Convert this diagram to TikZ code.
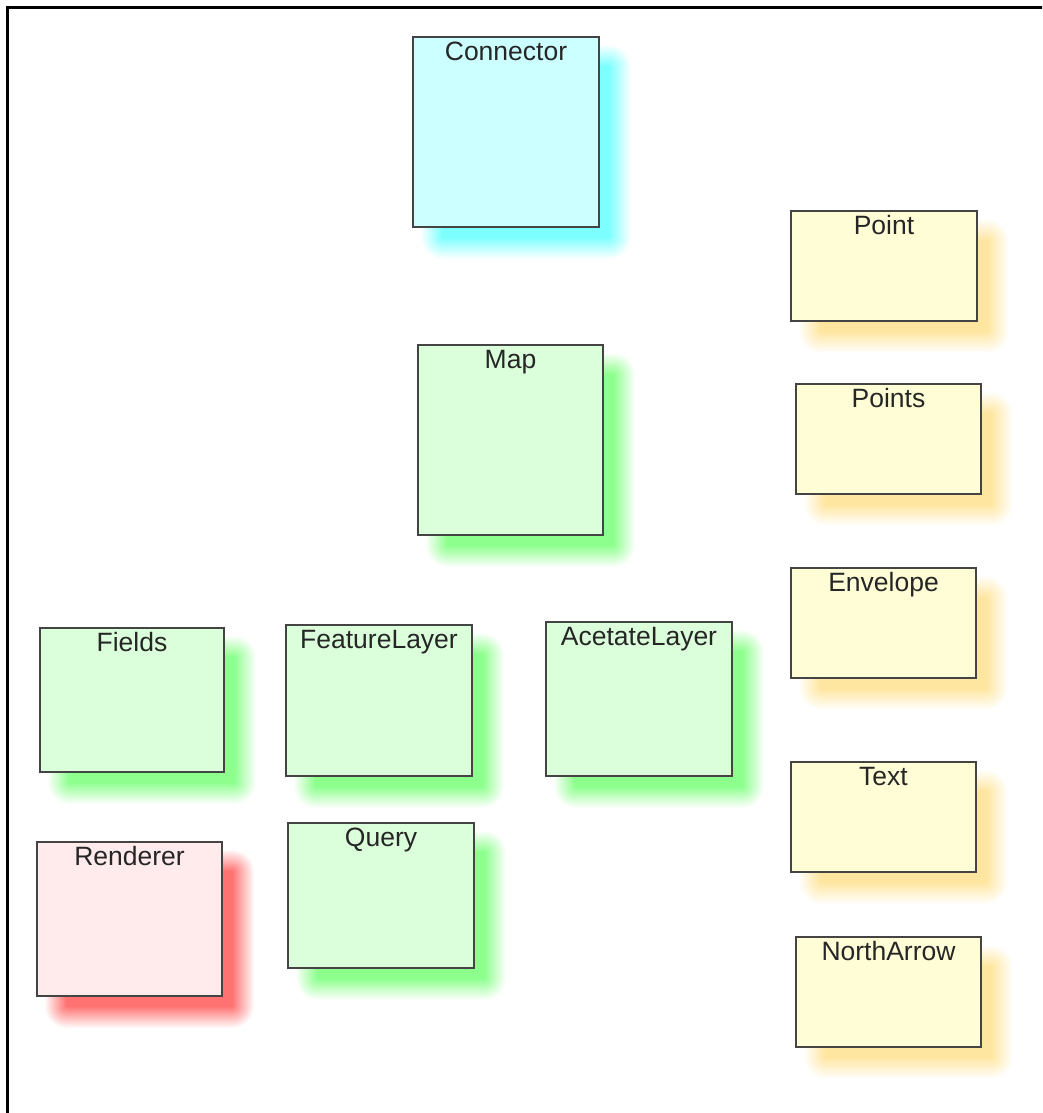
\documentclass[tikz,border=0pt]{standalone}
\usepackage{fontspec}
\setmainfont{Liberation Sans}
\usetikzlibrary{calc}
\pgfdeclarelayer{shadowlayer}
\pgfsetlayers{shadowlayer,main}

\definecolor{boxline}{HTML}{444444}
\definecolor{textgray}{HTML}{262626}
\definecolor{cyanfill}{HTML}{CCFFFF}
\definecolor{greenfill}{HTML}{DBFFDB}
\definecolor{redfill}{HTML}{FFEBEB}
\definecolor{yellowfill}{HTML}{FFFDD6}
\definecolor{cyanshade}{HTML}{78FFFF}
\definecolor{greenshade}{HTML}{88FF88}
\definecolor{redshade}{HTML}{FF6C6C}
\definecolor{yellowshade}{HTML}{FFE59C}

\tikzset{
  box/.style={draw=boxline, line width=2pt, rectangle, inner sep=0pt},
  tag/.style={font=\fontsize{26.5}{30}\selectfont, text=textgray, anchor=base,
              inner sep=0pt, yshift=-24.5pt},
  frameline/.style={draw=black, line width=3pt},
}

% soft drop shadow behind a named node: stacked rectangles whose
% opacities add up to a linear ramp from the rim to the core
\newcommand\dropshadow[2]{%
  \foreach \e [count=\k] in {11,10,...,-10}{%
    \pgfmathsetmacro\rc{max(\e+11,0.5)}%
    \pgfmathsetmacro\op{1/(22-\k+2)}%
    \fill[#2, fill opacity=\op, rounded corners=\rc pt]
      ($(#1.north west)+(20-\e,20-\e)$) rectangle ($(#1.south east)+(20+\e,20+\e)$);
  }}

\begin{document}
\begin{tikzpicture}[x=1pt, y=-1pt]
  \useasboundingbox (0,0) rectangle (1042,1113);
  \clip (0,0) rectangle (1042,1113);

  % outer frame
  \path[frameline] (7,1130) -- (7,8) -- (1060,8);

  % boxes
  \node[box, fill=cyanfill, minimum width=186pt, minimum height=190pt,
        label={[tag]north:Connector}] (connector) at (506,132) {};
  \node[box, fill=greenfill, minimum width=185pt, minimum height=190pt,
        label={[tag]north:Map}] (map) at (510.5,440) {};

  \node[box, fill=yellowfill, minimum width=186pt, minimum height=110pt,
        label={[tag]north:Point}] (point) at (884,266) {};
  \node[box, fill=yellowfill, minimum width=185pt, minimum height=110pt,
        label={[tag]north:Points}] (points) at (888.5,439) {};
  \node[box, fill=yellowfill, minimum width=185pt, minimum height=110pt,
        label={[tag]north:Envelope}] (envelope) at (883.5,623) {};
  \node[box, fill=yellowfill, minimum width=185pt, minimum height=110pt,
        label={[tag]north:Text}] (text) at (883.5,817) {};
  \node[box, fill=yellowfill, minimum width=185pt, minimum height=110pt,
        label={[tag]north:NorthArrow}] (northarrow) at (888.5,992) {};

  \node[box, fill=greenfill, minimum width=184pt, minimum height=144pt,
        label={[tag]north:Fields}] (fields) at (132,700) {};
  \node[box, fill=greenfill, minimum width=186pt, minimum height=151pt,
        label={[tag]north:FeatureLayer}] (featurelayer) at (379,700.5) {};
  \node[box, fill=greenfill, minimum width=186pt, minimum height=154pt,
        label={[tag]north:AcetateLayer}] (acetatelayer) at (639,699) {};
  \node[box, fill=redfill, minimum width=185pt, minimum height=154pt,
        label={[tag]north:Renderer}] (renderer) at (129.5,919) {};
  \node[box, fill=greenfill, minimum width=186pt, minimum height=145pt,
        label={[tag]north:Query}] (query) at (381,895.5) {};

  % shadows, painted underneath the boxes
  \begin{pgfonlayer}{shadowlayer}
    \dropshadow{connector}{cyanshade}
    \dropshadow{map}{greenshade}
    \dropshadow{fields}{greenshade}
    \dropshadow{featurelayer}{greenshade}
    \dropshadow{acetatelayer}{greenshade}
    \dropshadow{query}{greenshade}
    \dropshadow{renderer}{redshade}
    \dropshadow{point}{yellowshade}
    \dropshadow{points}{yellowshade}
    \dropshadow{envelope}{yellowshade}
    \dropshadow{text}{yellowshade}
    \dropshadow{northarrow}{yellowshade}
  \end{pgfonlayer}
\end{tikzpicture}
\end{document}
